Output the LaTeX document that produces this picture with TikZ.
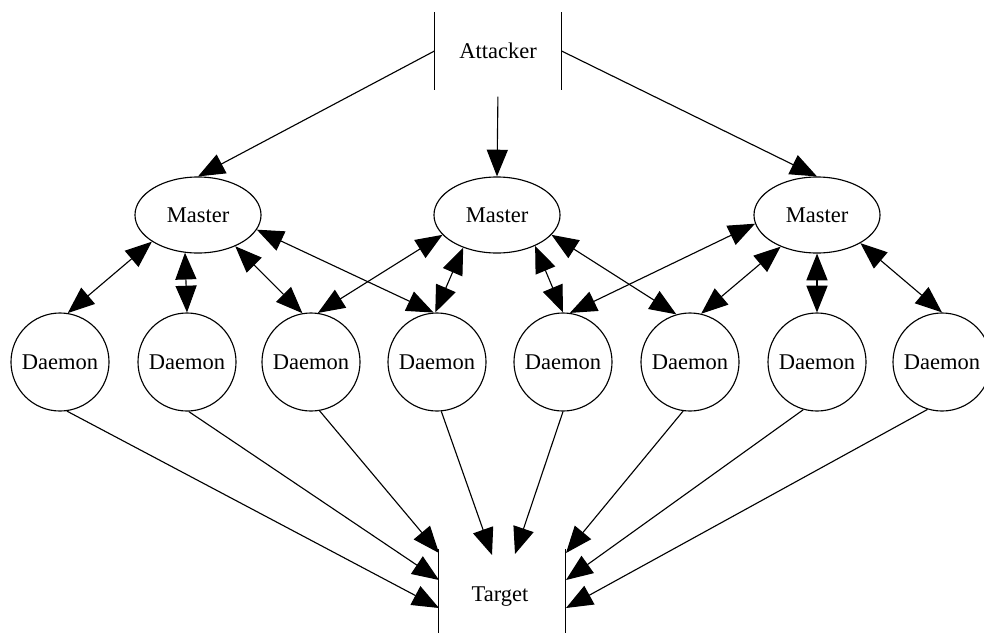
\documentclass[tikz,border=0pt]{standalone}
\usepackage{fontspec}
\setmainfont{Liberation Serif}
\usetikzlibrary{arrows.meta,shapes.geometric}
\begin{document}
\begin{tikzpicture}[x=0.025cm,y=-0.025cm,line width=0.8pt,
    font=\fontsize{16}{18}\selectfont,
    tip/.style={-{Triangle[length=19pt,width=15pt]}},
    both/.style={{Triangle[length=19pt,width=15pt]}-{Triangle[length=19pt,width=15pt]}},
    master/.style={draw,ellipse,minimum width=3.15cm,minimum height=1.9cm,inner sep=0pt},
    daemon/.style={draw,circle,minimum size=2.45cm,inner sep=0pt},
    sides/.style={minimum width=3.15cm,inner sep=0pt}]
  \useasboundingbox (0,0) rectangle (984,632);
  % attacker and target, open at top and bottom
  \node[sides,minimum height=1.9cm] (att) at (498,51) {Attacker};
  \draw (att.north west) -- (att.south west);
  \draw (att.north east) -- (att.south east);
  \node[sides,minimum height=2.05cm] (tg) at (502,591) {};
  \node at (500,597) {Target};
  \draw (tg.north west) -- (tg.south west);
  \draw (tg.north east) -- (tg.south east);
  % masters and daemons
  \foreach \i/\x in {1/198,2/497,3/817}
    \node[master] (m\i) at (\x,215) {Master};
  \foreach \i/\x in {1/60,2/187,3/311,4/437,5/563,6/690,7/817,8/942}
    \node[daemon] (d\i) at (\x,362) {Daemon};
  % arrow ends at the target
  \foreach \n/\x/\y in {l1/439/553,l2/439/580,l3/439/608,c1/492/555,c2/515/554,
                        r1/566/553,r2/566/580,r3/566/608}
    \coordinate (t\n) at (\x,\y);
  \draw[tip] (att.west) -- (m1.north);
  \draw[tip,shorten <=5pt] (att.south) -- (m2.north);
  \draw[tip] (att.east) -- (m3.north);
  \foreach \m/\d/\a/\b in {1/1/210/81,1/2/251/90,1/3/320/100,1/4/346/94,
                           2/3/200/82,2/4/224/92,2/5/321/90,2/6/340/106,
                           3/5/188/82,3/6/221/77,3/7/270/90,3/8/327/90}
    \draw[both] (m\m.\a) -- (d\d.\b);
  \foreach \d/\a/\t in {1/278/l3,2/272/l2,3/280/l1,4/275/c1,
                        5/270/c2,6/262/r1,7/254/r2,8/253/r3}
    \draw[tip] (d\d.\a) -- (t\t);
\end{tikzpicture}
\end{document}
